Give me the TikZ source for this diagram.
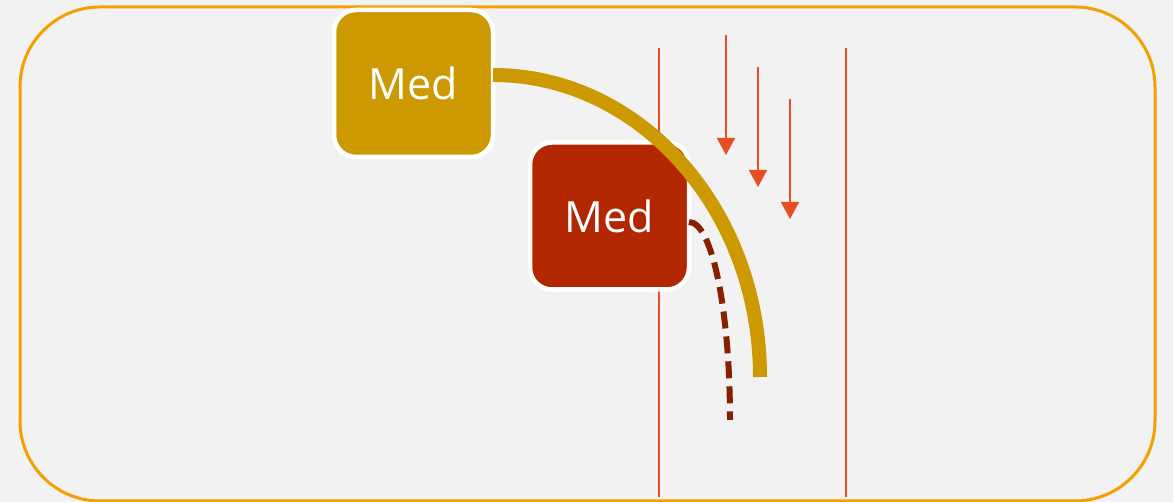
\documentclass[tikz,border=0pt]{standalone}
\usepackage{fontspec}
\setmainfont{Open Sans}
\usetikzlibrary{arrows.meta}
\definecolor{bgc}{HTML}{F2F2F2}
\definecolor{framec}{HTML}{F5A000}
\definecolor{goldc}{HTML}{CC9900}
\definecolor{redc}{HTML}{B22600}
\definecolor{darkc}{HTML}{862000}
\definecolor{linec}{HTML}{E84E24}
\begin{document}
\begin{tikzpicture}
	[x=1pt,y=1pt,
	medbox/.style={draw=white,line width=4.5pt,rounded corners=22pt,
		minimum width=159pt,minimum height=147pt,inner sep=0pt,outer sep=0pt,
		text=white,font=\fontsize{43}{48}\selectfont},
	gridline/.style={linec,line width=1.3pt},
	flowarrow/.style={linec,line width=1.8pt,-{Triangle[width=18pt,length=17pt]}},
	goldarc/.style={goldc,line width=14pt},
	dashpath/.style={darkc,line width=6pt,dash pattern=on 17pt off 8pt}]
	\useasboundingbox (0,0) rectangle (1173,502);
	\fill[bgc] (0,0) rectangle (1173,502);
	\draw[framec,line width=3pt,rounded corners=80pt] (20,1) rectangle (1155,495);
	% vertical lines
	\foreach \x in {659,846} {
		\coordinate (top\x) at (\x,454);
		\coordinate (bot\x) at (\x,5);
		\draw[gridline] (top\x) -- (bot\x);
	}
	% arrows
	\foreach \x/\y in {726/467,758/435,790/403} {
		\coordinate (start\x) at (\x,\y);
		\coordinate (tip\x) at (\x,\y-120);
		\draw[flowarrow] (start\x) -- (tip\x);
	}
	\node[medbox,fill=goldc] (medA) at (413.5,418.5) {Med};
	\node[medbox,fill=redc] (medB) at (609.5,286) {Med};
	\coordinate (goldEnd) at (760,125);
	\coordinate (dashEnd) at (730,82);
	\draw[goldarc] ([yshift=8.5pt]medA.east) .. controls +(147.4,0) and +(0,166.7) .. (goldEnd);
	\draw[dashpath] ([yshift=-6pt]medB.east) .. controls +(23.2,0) and +(0,109.3) .. (dashEnd);
\end{tikzpicture}
\end{document}
